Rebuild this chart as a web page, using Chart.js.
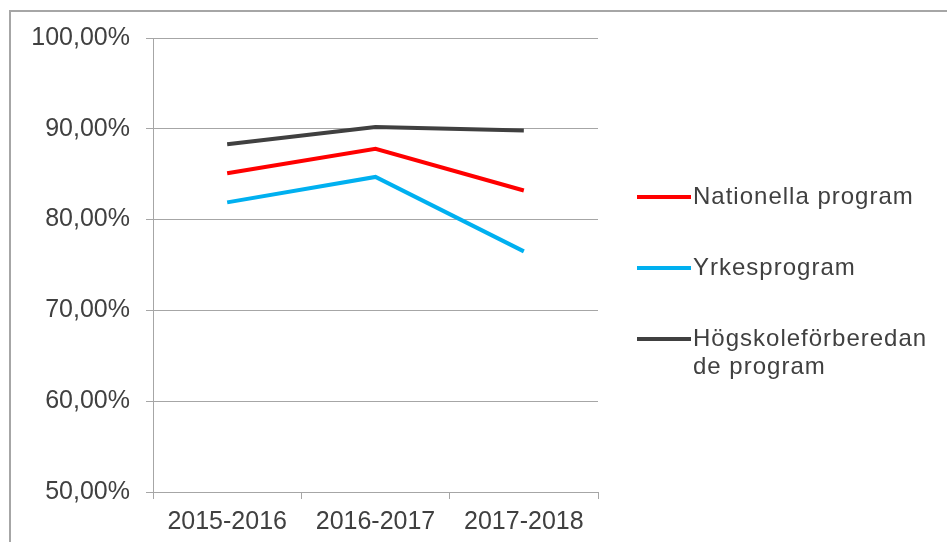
<!DOCTYPE html>
<html lang="sv">
<head>
  <meta charset="UTF-8">
  <title>Program</title>
  <script src="https://cdn.jsdelivr.net/npm/chart.js"></script>
  <style>
    body {
      margin: 0;
      font-family: 'Liberation Sans', Arial, sans-serif;
      background: #fff;
      overflow: hidden;
    }
    #wrap {
      position: relative;
      width: 947px;
      height: 542px;
    }
    #frame {
      position: absolute;
      left: 9px;
      top: 10px;
      width: 1000px;
      height: 600px;
      border: 2px solid #a6a6a6;
    }
    #chart {
      position: absolute;
      left: 0;
      top: 0;
    }
    #legend {
      position: absolute;
      left: 637px;
      top: 182px;
      color: #404040;
      font-size: 24px;
      letter-spacing: 1px;
    }
    .item {
      display: flex;
      align-items: flex-start;
      height: 71px;
    }
    .swatch {
      width: 54px;
      height: 4px;
      margin-top: 13px;
      flex: none;
    }
    .txt {
      width: 240px;
      line-height: 28px;
      word-break: break-all;
      padding-left: 2px;
    }
  </style>
</head>
<body>
<div id="wrap">
  <div id="frame"></div>
  <canvas id="chart" width="947" height="542"></canvas>
  <div id="legend"></div>
</div>

<script>
  const years = ['2015-2016', '2016-2017', '2017-2018'];
  const nationella = [85.1, 87.8, 83.2];
  const yrkes = [81.9, 84.7, 76.5];
  const hogskole = [88.3, 90.2, 89.8];

  Chart.defaults.font.family = "'Liberation Sans', Arial, sans-serif";
  Chart.defaults.color = '#404040';

  const gridColor = '#a6a6a6';

  const datasets = [
    { label: 'Nationella program', data: nationella, borderColor: '#ff0000' },
    { label: 'Yrkesprogram', data: yrkes, borderColor: '#00b0f0' },
    { label: 'Högskoleförberedande program', data: hogskole, borderColor: '#404040' }
  ].map(d => Object.assign(d, {
    borderWidth: 4,
    pointRadius: 0,
    tension: 0,
    fill: false
  }));

  const chart = new Chart(document.getElementById('chart'), {
    type: 'line',
    data: { labels: years, datasets: datasets },
    options: {
      responsive: false,
      animation: false,
      layout: { padding: { left: 0, top: 38, right: 349, bottom: 0 } },
      plugins: { legend: { display: false }, tooltip: { enabled: false } },
      scales: {
        x: {
          offset: true,
          grid: {
            offset: true,
            drawOnChartArea: false,
            color: gridColor,
            tickLength: 7
          },
          border: { color: gridColor },
          ticks: { font: { size: 25 }, padding: 8, maxRotation: 0 },
          afterFit: s => { s.height = 50; }
        },
        y: {
          min: 50,
          max: 100,
          grid: { color: gridColor, tickLength: 7 },
          border: { color: gridColor },
          ticks: {
            stepSize: 10,
            font: { size: 25 },
            padding: 16,
            callback: v => v.toFixed(2).replace('.', ',') + '%'
          },
          afterFit: s => { s.width = 153; }
        }
      }
    }
  });

  // legend drawn as html so the last label can wrap like the original
  const legend = document.getElementById('legend');
  chart.data.datasets.forEach(ds => {
    const item = document.createElement('div');
    item.className = 'item';
    const sw = document.createElement('span');
    sw.className = 'swatch';
    sw.style.background = ds.borderColor;
    const t = document.createElement('span');
    t.className = 'txt';
    t.textContent = ds.label;
    item.appendChild(sw);
    item.appendChild(t);
    legend.appendChild(item);
  });
</script>
</body>
</html>
